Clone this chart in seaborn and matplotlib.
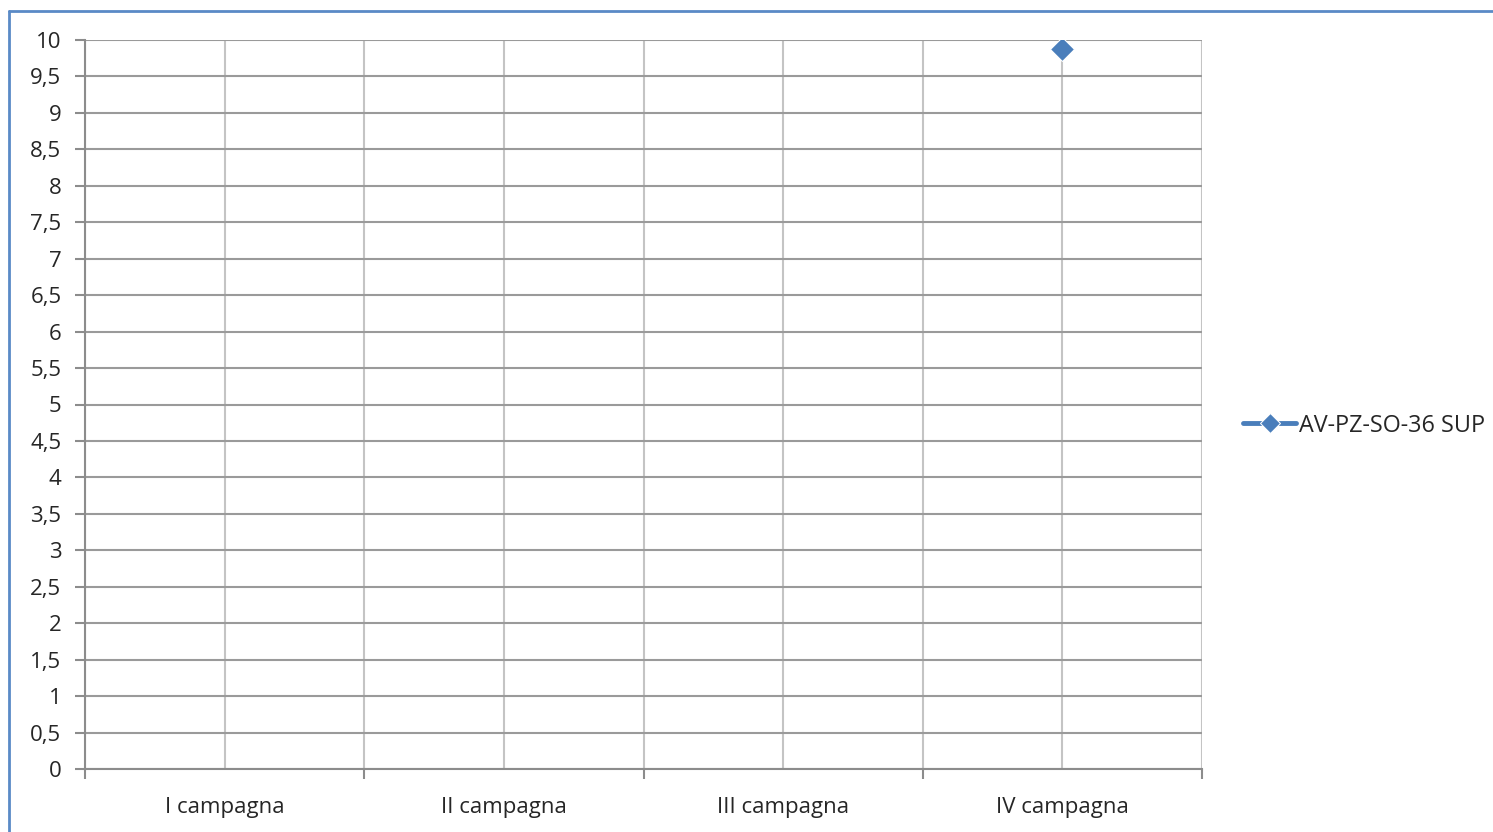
import matplotlib
matplotlib.use("Agg")
import matplotlib.pyplot as plt
import matplotlib.ticker as mticker
import numpy as np
import pandas as pd
import seaborn as sns

categorie = ["I campagna", "II campagna", "III campagna", "IV campagna"]
valori = [np.nan, np.nan, np.nan, 9.88]
serie = "AV-PZ-SO-36 SUP"
y_ticks = np.arange(0, 10.01, 0.5)

blu = "#4A7EBB"

sns.set_theme(style="white")
plt.rcParams["font.family"] = ["Open Sans", "DejaVu Sans"]

df = pd.DataFrame({"pos": np.arange(len(categorie)), "valore": valori, "serie": serie})

fig = plt.figure(figsize=(14.93, 8.32), dpi=100)
ax = fig.add_axes([85 / 1493, 1 - 769 / 832, (1202 - 85) / 1493, (769 - 40) / 832])

sns.lineplot(data=df.dropna(), x="pos", y="valore", hue="serie", palette=[blu],
             marker="D", markersize=12, linewidth=3, ax=ax)

ax.set_xlim(-0.5, len(categorie) - 0.5)
ax.set_ylim(0, 10)
ax.set_xlabel("")
ax.set_ylabel("")

# vertical grid at centres and boundaries
for xv in np.arange(-0.5, len(categorie) - 0.49, 0.5):
    ax.axvline(xv, color="#c4c4c4", lw=1.5, zorder=0)
for yv in y_ticks:
    ax.axhline(yv, color="#9a9a9a", lw=1.5, zorder=0)

ax.set_yticks(y_ticks)
ax.yaxis.set_major_formatter(mticker.FuncFormatter(lambda v, p: f"{v:g}".replace(".", ",")))
ax.tick_params(axis="y", length=7, width=1.5, color="#8c8c8c", labelsize=16, pad=10, left=True)

ax.set_xticks(np.arange(-0.5, len(categorie), 1.0))
ax.set_xticklabels([])
ax.set_xticks(np.arange(len(categorie)), minor=True)
ax.set_xticklabels(categorie, minor=True)
ax.tick_params(axis="x", which="major", length=7, width=1.5, color="#8c8c8c", bottom=True)
ax.tick_params(axis="x", which="minor", length=0, labelsize=16, pad=20)

for side in ["top", "right"]:
    ax.spines[side].set_visible(False)
for side in ["left", "bottom"]:
    ax.spines[side].set_color("#8c8c8c")
    ax.spines[side].set_linewidth(1.5)

leg = ax.legend(loc="center left", bbox_to_anchor=(1.037, 0.471), frameon=False,
                fontsize=16.8, handlelength=2.25, handletextpad=0.15, borderaxespad=0,
                borderpad=0)
for t in leg.get_texts():
    t.set_text(serie)
for h in leg.legend_handles:
    h.set_markersize(10)
    h.set_linewidth(3.5)

# outer chart border (top and left visible)
fig.add_artist(plt.Line2D([8.5 / 1493, 8.5 / 1493], [0, 1 - 10.5 / 832], color="#5A8AC6", lw=2,
                          transform=fig.transFigure))
fig.add_artist(plt.Line2D([8.5 / 1493, 1], [1 - 10.5 / 832, 1 - 10.5 / 832], color="#5A8AC6", lw=2,
                          transform=fig.transFigure))

fig.savefig("out.png", dpi=100)
